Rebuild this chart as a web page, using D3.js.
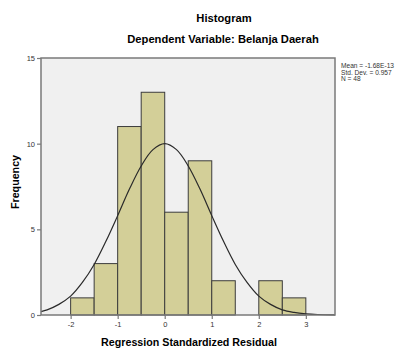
<!DOCTYPE html>
<html>
<head>
<meta charset="utf-8">
<script src="https://cdn.jsdelivr.net/npm/d3@7"></script>
<style>
  body { margin: 0; background: #fff; }
  text { font-family: "Liberation Sans", Arial, sans-serif; }
</style>
</head>
<body>
<div id="graphic"></div>
<script>
// histogram bins (lower edge) and counts
var binStart = [-2, -1.5, -1, -0.5, 0, 0.5, 1, 1.5, 2, 2.5];
var counts   = [1, 3, 11, 13, 6, 9, 2, 0, 2, 1];
var binWidth = 0.5;

// normal curve
var curveX = [-2.63, -2.5, -2.25, -2, -1.75, -1.5, -1.25, -1, -0.75, -0.5, -0.25, 0,
              0.25, 0.5, 0.75, 1, 1.25, 1.5, 1.75, 2, 2.25, 2.5, 2.75, 3, 3.25, 3.62];
var curveY = [0.2, 0.3, 0.62, 1.1, 1.9, 2.95, 4.3, 5.8, 7.35, 8.7, 9.65, 10,
              9.65, 8.7, 7.35, 5.8, 4.3, 2.95, 1.9, 1.1, 0.62, 0.3, 0.15, 0.07, 0.03, 0.01];

var xTicks = [-2, -1, 0, 1, 2, 3];
var yTicks = [0, 5, 10, 15];
var stats  = ["Mean = -1.68E-13", "Std. Dev. = 0.957", "N = 48"];

var w = 401, h = 349;
var pLeft = 41, pRight = 335, pTop = 58, pBottom = 315;

var svg = d3.select("#graphic")
    .append("svg")
    .attr("width", w)
    .attr("height", h);

var xScale = d3.scaleLinear()
    .domain([-2.63, 3.62])
    .range([pLeft, pRight]);
var yScale = d3.scaleLinear()
    .domain([0, 15])
    .range([pBottom, pTop]);

// plot background
svg.append("rect")
   .attr("x", pLeft).attr("y", pTop)
   .attr("width", pRight - pLeft).attr("height", pBottom - pTop)
   .attr("fill", "#f0f0f0");

// bars
svg.selectAll("rect.bar")
   .data(binStart.map(function(d, i){ return [d, counts[i]]; }).filter(function(d){ return d[1] > 0; }))
   .enter()
   .append("rect")
   .attr("class", "bar")
   .attr("x", function(d){ return xScale(d[0]); })
   .attr("y", function(d){ return yScale(d[1]); })
   .attr("width", function(d){ return xScale(d[0] + binWidth) - xScale(d[0]); })
   .attr("height", function(d){ return yScale(0) - yScale(d[1]); })
   .attr("fill", "#d3cf98")
   .attr("stroke", "#3c3c3c")
   .attr("stroke-width", 1);

// normal curve
var line = d3.line()
    .x(function(d){ return xScale(d[0]); })
    .y(function(d){ return yScale(d[1]); })
    .curve(d3.curveCatmullRom);
svg.append("path")
   .datum(curveX.map(function(d, i){ return [d, curveY[i]]; }))
   .attr("d", line)
   .attr("fill", "none")
   .attr("stroke", "#2a2a2a")
   .attr("stroke-width", 1.2);

// frame
svg.append("rect")
   .attr("x", pLeft).attr("y", pTop)
   .attr("width", pRight - pLeft).attr("height", pBottom - pTop)
   .attr("fill", "none")
   .attr("stroke", "#7a7a7a")
   .attr("stroke-width", 1.5);

// axes
var xAxis = svg.append("g")
   .attr("transform", "translate(0," + pBottom + ")")
   .call(d3.axisBottom(xScale).tickValues(xTicks).tickSize(4).tickPadding(3).tickFormat(d3.format("d")));
var yAxis = svg.append("g")
   .attr("transform", "translate(" + pLeft + ",0)")
   .call(d3.axisLeft(yScale).tickValues(yTicks).tickSize(4).tickPadding(2));
[xAxis, yAxis].forEach(function(a){
    a.select(".domain").remove();
    a.selectAll("line").attr("stroke", "#7a7a7a").attr("stroke-width", 1.2);
    a.selectAll("text").attr("fill", "#333").style("font-size", "7.5px")
     .style("font-family", "'Liberation Sans', Arial, sans-serif");
});
xAxis.selectAll("text").text(function(d){ return d < 0 ? "-" + Math.abs(d) : d; });

// titles
svg.append("text")
   .attr("x", 224).attr("y", 22)
   .attr("text-anchor", "middle")
   .style("font-size", "11.2px").style("font-weight", "bold")
   .text("Histogram");
svg.append("text")
   .attr("x", 223).attr("y", 43)
   .attr("text-anchor", "middle")
   .style("font-size", "11.2px").style("font-weight", "bold")
   .text("Dependent Variable: Belanja Daerah");
svg.append("text")
   .attr("x", 189).attr("y", 346)
   .attr("text-anchor", "middle")
   .style("font-size", "10.7px").style("font-weight", "bold")
   .text("Regression Standardized Residual");
svg.append("text")
   .attr("transform", "translate(19,182) rotate(-90)")
   .attr("text-anchor", "middle")
   .style("font-size", "10.7px").style("font-weight", "bold")
   .text("Frequency");

// stats box
svg.selectAll("text.stat")
   .data(stats)
   .enter()
   .append("text")
   .attr("class", "stat")
   .attr("x", 341)
   .attr("y", function(d, i){ return 68 + i * 6.5; })
   .attr("fill", "#333")
   .style("font-size", "6.6px")
   .text(function(d){ return d; });
</script>
</body>
</html>
